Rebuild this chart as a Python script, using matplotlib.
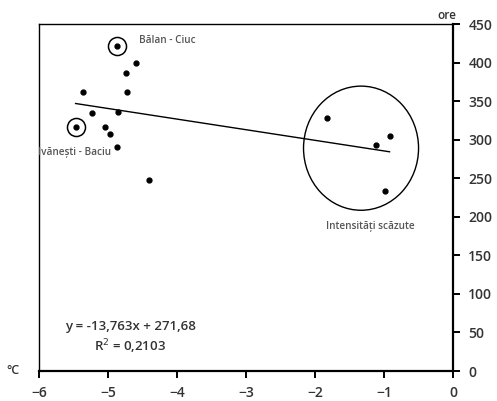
import matplotlib.pyplot as plt
from matplotlib.patches import Ellipse

# temperature (°C) vs hours (ore)
temp = [-4.87, -4.59, -4.74, -5.36, -4.73, -5.23, -4.85, -5.47, -5.04, -4.97,
        -4.87, -4.40, -1.83, -0.92, -1.12, -0.99]
hours = [421, 400, 386, 362, 362, 334, 336, 317, 317, 307,
         290, 248, 328, 305, 293, 234]

# trend line as shown on the chart
slope = -13.763
intercept = 271.68
r2 = 0.2103

x_ticks = [-6, -5, -4, -3, -2, -1, 0]
y_ticks = [0, 50, 100, 150, 200, 250, 300, 350, 400, 450]

plt.rcParams['font.family'] = ['Open Sans', 'DejaVu Sans']

fig = plt.figure(figsize=(4.97, 4.01), dpi=100)
ax = fig.add_axes([0.0785, 0.0748, 0.833, 0.8652])

ax.plot(temp, hours, 'o', color='black', markersize=3.5, zorder=3)

# highlighted stations
ax.plot([temp[0], temp[7]], [hours[0], hours[7]], 'o', markersize=13,
        markerfacecolor='none', markeredgecolor='black', markeredgewidth=1.1)

xs = [min(temp), max(temp)]
ax.plot(xs, [slope * v + intercept for v in xs], color='black', lw=1.0)

ax.add_patch(Ellipse((-1.333, 289), 1.667, 161, fill=False, edgecolor='black', lw=1.0))

lab_kw = dict(fontsize=7.2, color='#555555', va='center', fontweight='semibold')
ax.text(-4.55, 429, 'Bălan - Ciuc', ha='left', **lab_kw)
ax.text(-5.48, 283, 'Ivănești - Baciu', ha='center', **lab_kw)
ax.text(-1.20, 187, 'Intensități scăzute', ha='center', **lab_kw)

eq_kw = dict(fontsize=9.5, color='#333333', va='center', ha='center', fontweight='semibold')
ax.text(-4.68, 58, 'y = -13,763x + 271,68', **eq_kw)
ax.text(-4.68, 31, 'R$^2$ = 0,2103', **eq_kw)

ax.set_xlim(-6, 0)
ax.set_ylim(0, 450)
ax.set_xticks(x_ticks)
ax.set_yticks(y_ticks)
ax.yaxis.tick_right()

for s in ['top', 'left']:
    ax.spines[s].set_linewidth(1.0)
for s in ['bottom', 'right']:
    ax.spines[s].set_linewidth(1.6)
ax.tick_params(axis='both', direction='out', length=5, width=1.4, labelsize=10,
               labelcolor='#333333', pad=6)
for lab in ax.get_xticklabels() + ax.get_yticklabels():
    lab.set_fontweight('semibold')

fig.text(0.027, 0.077, '°C', fontsize=9, color='#333333', ha='center', va='center',
         fontweight='semibold')
fig.text(0.9, 0.962, 'ore', fontsize=8.5, color='#333333', ha='center', va='center',
         fontweight='semibold')

fig.savefig('out.png', dpi=100)
